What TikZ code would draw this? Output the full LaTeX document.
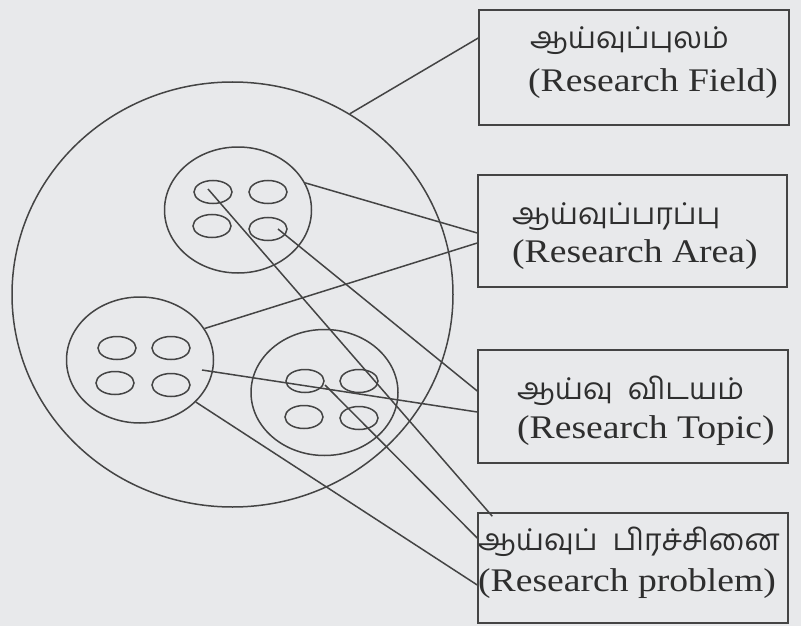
\documentclass[tikz,border=0pt]{standalone}
\usepackage{fontspec}
\setmainfont{Liberation Serif}[FakeStretch=1.14]
\newfontfamily\tamil[Script=Tamil]{Hind Madurai}
\usetikzlibrary{shapes.geometric}
\definecolor{ink}{HTML}{444444}
\definecolor{paper}{HTML}{E8E9EB}
\definecolor{print}{HTML}{2E2E2E}

\begin{document}
\begin{tikzpicture}[
        x=1pt, y=-1pt,
        ring/.style={draw=ink, line width=1.5pt, ellipse, inner sep=0pt},
        seed/.style={ring, minimum width=38pt, minimum height=23pt},
        group/.style={ring, minimum width=147pt, minimum height=126pt},
        box/.style={draw=ink, line width=1.5pt, minimum width=310pt, minimum height=113pt, inner sep=0pt},
        tam/.style={anchor=base west, inner sep=0pt, text=print, font=\tamil\fontsize{30}{34}\selectfont},
        eng/.style={anchor=base west, inner sep=0pt, text=print, font=\fontsize{33}{37}\selectfont},
        link/.style={draw=ink, line width=1.5pt}
    ]
    \fill[paper] (0,0) rectangle (801,626);
    \useasboundingbox (0,0) rectangle (801,626);

    % circles
    \node[ring, minimum width=441pt, minimum height=425pt] (big) at (232.5,294.5) {};
    \node[group] (topsub) at (238,210) {};
    \node[group] (leftsub) at (140,360) {};
    \node[group] (rightsub) at (324.5,392.5) {};
    \foreach \n/\x/\y in {t1/213/192, t2/268/192, t3/212/226, t4/268/229,
                          l1/117/348, l2/171/348, l3/115/383, l4/171/385,
                          r1/305/381, r2/359/381, r3/304/417, r4/359/418}
        \node[seed] (\n) at (\x,\y) {};

    % boxes
    \node[box, minimum height=115pt] (field) at (634,67.5) {};
    \node[box, minimum width=309pt, minimum height=112pt] (area) at (632.5,231) {};
    \node[box] (topic) at (633,406.5) {};
    \node[box, minimum height=110pt] (problem) at (633,568) {};

    \node[tam] (fieldta) at (530,49) {ஆய்வுப்புலம்};
    \node[eng] (fielden) at (528,92) {(Research Field)};
    \node[tam] (areata) at (512,224) {ஆய்வுப்பரப்பு};
    \node[eng] (areaen) at (512,262) {(Research Area)};
    \node[tam] (topicta) at (517,399) {ஆய்வு\hspace{0.5em}விடயம்};
    \node[eng] (topicen) at (517,438) {(Research Topic)};
    \node[tam] (problemta) at (478,550) {ஆய்வுப்\hspace{0.5em}பிரச்சினை};
    \node[eng] (problemen) at (478,591) {(Research problem)};

    % links
    \draw[link] (big.57.5) -- ([yshift=29.5pt]field.west);
    \draw[link] (topsub.22) -- ([yshift=-2pt]area.west);
    \draw[link] (leftsub.26) -- ([yshift=-12pt]area.west);
    \draw[link] ([xshift=10pt]t4.center) -- ([yshift=15.5pt]topic.west);
    \draw[link] ([xshift=62pt,yshift=-10pt]leftsub.center) -- ([yshift=-5.5pt]topic.west);
    \draw[link] ([xshift=-5pt,yshift=3pt]t1.center) -- ([xshift=15pt,yshift=-4pt]problem.north west);
    \draw[link] ([xshift=20pt,yshift=-4pt]r1.center) -- ([yshift=30pt]problem.west);
    \draw[link] (leftsub.-37) -- ([yshift=-17pt]problem.west);
\end{tikzpicture}
\end{document}
